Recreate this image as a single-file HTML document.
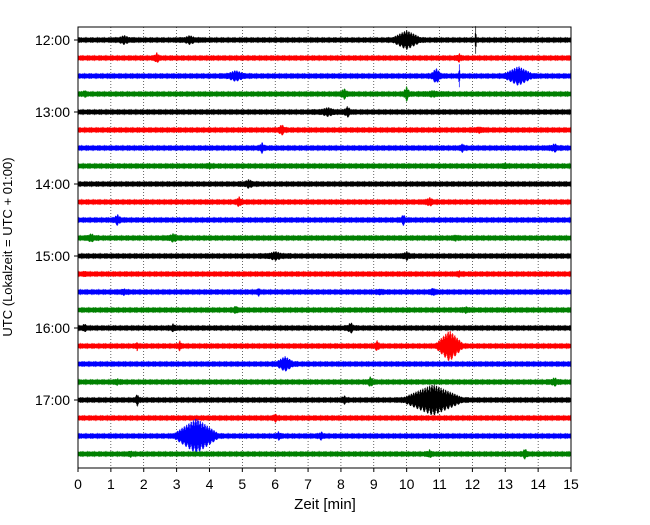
<!DOCTYPE html>
<html><head><meta charset="utf-8"><style>
body{margin:0;background:#fff}
text{font-family:"Liberation Sans","DejaVu Sans",sans-serif}
</style></head><body>
<svg id="c" width="650" height="520" viewBox="0 0 650 520" xmlns="http://www.w3.org/2000/svg">
<g id="grid"></g>
<g id="traces"></g>
<rect x="78" y="27" width="493" height="441" fill="none" stroke="#000" stroke-width="1"/>
<g id="xt"></g>
<g id="yt"></g>
<text x="325" y="509" font-size="15" text-anchor="middle">Zeit  [min]</text>
<text transform="translate(12,247) rotate(-90)" font-size="13" text-anchor="middle">UTC (Lokalzeit = UTC + 01:00)</text>
</svg>
<script>
const xTicks=[0,1,2,3,4,5,6,7,8,9,10,11,12,13,14,15];
const yLabels=["12:00","13:00","14:00","15:00","16:00","17:00"];
const colors=["#000","#f00","#00f","#008000"];
const traceCount=24;
// events: trace index, minute, amplitude(px), duration(min)
const evTrace=[0,0,0,0,1,1,2,2,2,2,3,3,3,3,4,4,5,5,6,6,6,7,7,8,9,9,10,10,11,11,11,12,12,13,13,14,14,14,14,15,15,16,16,16,17,17,17,17,18,19,19,19,20,20,20,21,22,22,22,23,23,23];
const evMin=[1.4,3.4,10,12.1,2.4,11.6,4.8,10.9,11.6,13.4,0.2,8.1,10,10.8,7.6,8.2,6.2,12.2,5.6,11.7,14.5,4,13,5.2,4.9,10.7,1.2,9.9,0.4,2.9,11.5,6,10,0.2,11.6,1.4,5.5,9.2,10.8,4.8,11.8,0.2,2.9,8.3,1.8,3.1,9.1,11.3,6.3,1.2,8.9,14.5,1.8,8.1,10.8,6,3.6,6.1,7.4,1.6,10.7,13.6];
const evAmp=[5,5,10,14,6,5,6,8,12,10,5,6,8,4,5,6,6,4,6,5,5,4,4,5,6,5,6,6,5,5,4,5,5,4,4,4,5,4,5,5,4,5,5,6,6,6,6,16,8,4,6,5,7,5,16,5,18,5,5,4,5,6];
const evDur=[0.8,0.8,1.2,0.05,0.3,0.3,1,0.5,0.05,1.2,0.2,0.4,0.3,1,1,0.4,0.4,0.5,0.3,0.3,0.5,0.3,0.3,0.6,0.3,0.5,0.4,0.3,0.5,0.6,0.3,1,0.5,0.2,0.3,0.4,0.2,0.3,0.3,0.3,0.4,0.3,0.3,0.4,0.1,0.2,0.3,1,0.8,0.3,0.3,0.5,0.2,0.3,2.2,0.3,1.6,0.3,0.3,0.3,0.3,0.3];
const X0=78,X1=571,Y0=40,DY=18;
const xs=m=>X0+(X1-X0)*m/15;
const ys=i=>Y0+DY*i;
const NS="http://www.w3.org/2000/svg";
const grid=document.getElementById('grid'),tr=document.getElementById('traces'),xt=document.getElementById('xt'),yt=document.getElementById('yt');
function mk(t,a,p){const e=document.createElementNS(NS,t);for(const k in a)e.setAttribute(k,a[k]);p.appendChild(e);return e;}
xTicks.forEach(v=>{
 const g=mk('line',{x1:xs(v),x2:xs(v),y1:27,y2:468,stroke:'#000','stroke-width':0.6,'stroke-dasharray':'1,2'},grid);
 
 
 const t=mk('line',{x1:xs(v),x2:xs(v),y1:468,y2:472,stroke:'#000'},xt);
 
 
 const l=mk('text',{x:xs(v),y:489,'font-size':14,'text-anchor':'middle'},xt);l.textContent=v;
 
 
});
yLabels.forEach((s,k)=>{
 const y=ys(k*4);
 const t=mk('line',{x1:74,x2:78,y1:y,y2:y,stroke:'#000'},yt);
 
 
 const l=mk('text',{x:70,y:y+5,'font-size':14,'text-anchor':'end'},yt);l.textContent=s;
 
 
});
for(let i=0;i<traceCount;i++){
 const c=colors[i%4],y=ys(i);
 const g=mk('g',{},tr);
 
 
 mk('rect',{x:X0,y:y-2,width:X1-X0,height:4,fill:c},g);
 let b='';
 for(let x=X0;x<=X1;x+=0.5){
  const h=2.2+1.0*Math.abs(Math.sin(x*1.37+i)*Math.sin(x*0.53+i*2));
  b+=`M${x} ${(y-h).toFixed(1)}V${(y+h).toFixed(1)}`;
 }
 mk('path',{d:b,stroke:c,'stroke-width':0.5,fill:'none'},g);
 let d='';
 evTrace.forEach((ti,k)=>{
  if(ti!==i)return;
  const c0=xs(evMin[k]),hw=Math.max(1,(X1-X0)*evDur[k]/15/2),A=evAmp[k];
  for(let x=Math.max(X0,c0-hw);x<=Math.min(X1,c0+hw);x+=0.5){
   const u=Math.abs(x-c0)/hw,env=Math.max(0,1-u);
   const j=0.55+0.45*Math.abs(Math.sin(x*1.37+0.4));
   const j2=0.55+0.45*Math.abs(Math.sin(x*0.91+2));
   const h=Math.max(2.5,A*env*j);
   const h2=Math.max(2.5,A*env*j2);
   d+=`M${x.toFixed(1)} ${(y-h).toFixed(1)}V${(y+h2).toFixed(1)}`;
  }
 });
 if(d){const p=mk('path',{d:d,stroke:c,'stroke-width':0.7,fill:'none'},g);
  
  }
}
</script>
</body></html>
